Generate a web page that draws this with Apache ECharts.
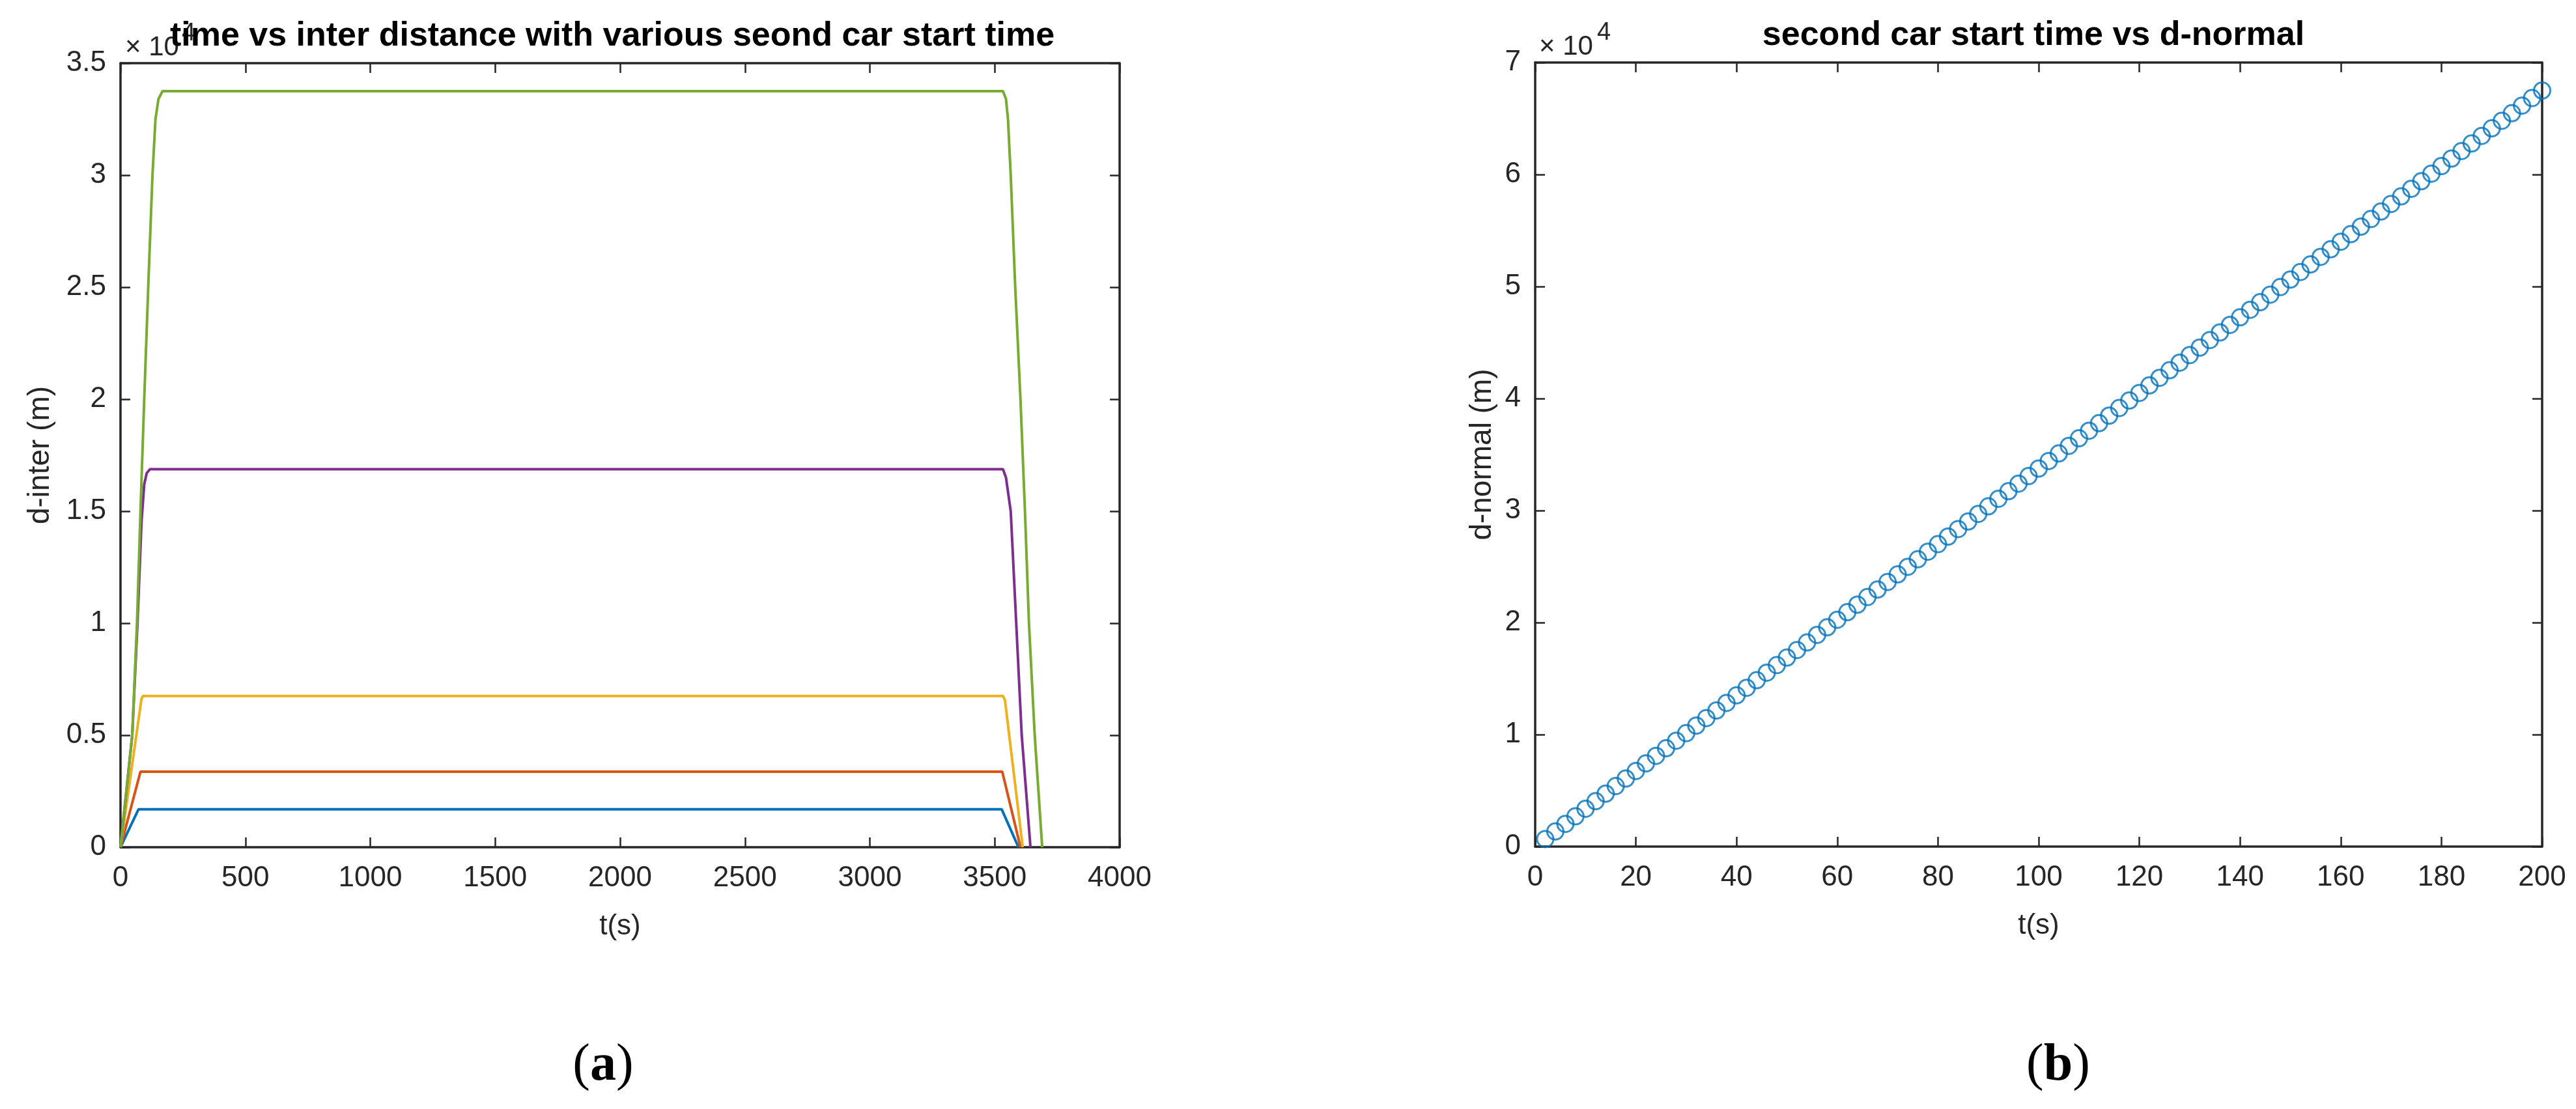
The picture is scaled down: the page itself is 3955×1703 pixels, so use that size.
<!DOCTYPE html>
<html>
<head>
<meta charset="utf-8">
<script src="https://cdn.jsdelivr.net/npm/echarts@6/dist/echarts.min.js"></script>
<style>
  html, body { margin: 0; padding: 0; background: #ffffff; }
  #chart { width: 3955px; height: 1703px; }
</style>
</head>
<body>
<div id="chart"></div>
<script>
// ---------- Panel (a): time vs inter distance ----------
const blueT   = [0, 72, 3528, 3595];
const blueD   = [0, 1690, 1690, 0];
const redT    = [0, 80, 3530, 3603];
const redD    = [0, 3375, 3375, 0];
const yellowT = [0, 84, 90, 3533, 3541, 3612];
const yellowD = [0, 6620, 6750, 6750, 6560, 0];
const purpleT = [0, 47, 68, 84, 95, 105, 118, 3533, 3545, 3564, 3586, 3608, 3643];
const purpleD = [0, 5000, 10000, 14500, 16200, 16700, 16875, 16875, 16500, 15000, 10000, 5000, 0];
const greenT  = [0, 47, 66, 80, 95, 111, 128, 140, 152, 168, 3533, 3545, 3553, 3564, 3582, 3603, 3621, 3637, 3660, 3690];
const greenD  = [0, 5000, 10000, 15000, 20000, 25000, 30000, 32500, 33400, 33750, 33750, 33400, 32500, 30000, 25000, 20000, 15000, 10000, 5000, 0];

// ---------- Panel (b): second car start time vs d-normal ----------
const startT = [2, 4, 6, 8, 10, 12, 14, 16, 18, 20, 22, 24, 26, 28, 30, 32, 34, 36, 38, 40,
  42, 44, 46, 48, 50, 52, 54, 56, 58, 60, 62, 64, 66, 68, 70, 72, 74, 76, 78, 80,
  82, 84, 86, 88, 90, 92, 94, 96, 98, 100, 102, 104, 106, 108, 110, 112, 114, 116, 118, 120,
  122, 124, 126, 128, 130, 132, 134, 136, 138, 140, 142, 144, 146, 148, 150, 152, 154, 156, 158, 160,
  162, 164, 166, 168, 170, 172, 174, 176, 178, 180, 182, 184, 186, 188, 190, 192, 194, 196, 198, 200];
const dNormal = [675, 1350, 2025, 2700, 3375, 4050, 4725, 5400, 6075, 6750,
  7425, 8100, 8775, 9450, 10125, 10800, 11475, 12150, 12825, 13500,
  14175, 14850, 15525, 16200, 16875, 17550, 18225, 18900, 19575, 20250,
  20925, 21600, 22275, 22950, 23625, 24300, 24975, 25650, 26325, 27000,
  27675, 28350, 29025, 29700, 30375, 31050, 31725, 32400, 33075, 33750,
  34425, 35100, 35775, 36450, 37125, 37800, 38475, 39150, 39825, 40500,
  41175, 41850, 42525, 43200, 43875, 44550, 45225, 45900, 46575, 47250,
  47925, 48600, 49275, 49950, 50625, 51300, 51975, 52650, 53325, 54000,
  54675, 55350, 56025, 56700, 57375, 58050, 58725, 59400, 60075, 60750,
  61425, 62100, 62775, 63450, 64125, 64800, 65475, 66150, 66825, 67500];

const titleA = 'time vs inter distance with various seond car start time';
const titleB = 'second car start time vs d-normal';

function zip(a, b) { return a.map((v, i) => [v, b[i]]); }

const FONT = '"Liberation Sans", Arial, Helvetica, sans-serif';
const SERIF = '"Liberation Serif", "Times New Roman", serif';
const AX = '#262626';
const fmtY = v => String(Math.round(v / 1000) / 10);
const fmtX = v => String(v);

function xAx(grid, min, max, interval, pos, showLabel, name) {
  return {
    type: 'value', gridIndex: grid, min: min, max: max, interval: interval, position: pos,
    axisLine: { show: true, onZero: false, lineStyle: { color: AX, width: 3.5 } },
    axisTick: { show: true, inside: true, length: 15, lineStyle: { color: AX, width: 2.5 } },
    axisLabel: { show: showLabel, fontSize: 44, color: AX, fontFamily: FONT, margin: 26, formatter: fmtX },
    splitLine: { show: false },
    name: name || '', nameLocation: 'middle', nameGap: 100,
    nameTextStyle: { fontSize: 44, color: AX, fontFamily: FONT }
  };
}
function yAx(grid, min, max, interval, pos, showLabel, name, gap) {
  return {
    type: 'value', gridIndex: grid, min: min, max: max, interval: interval, position: pos,
    axisLine: { show: true, onZero: false, lineStyle: { color: AX, width: 3.5 } },
    axisTick: { show: true, inside: true, length: 15, lineStyle: { color: AX, width: 2.5 } },
    axisLabel: { show: showLabel, fontSize: 44, color: AX, fontFamily: FONT, margin: 22, formatter: fmtY },
    splitLine: { show: false },
    name: name || '', nameLocation: 'middle', nameGap: gap || 0,
    nameTextStyle: { fontSize: 46, color: AX, fontFamily: FONT }
  };
}
function lineSeries(t, d, color) {
  return {
    type: 'line', xAxisIndex: 0, yAxisIndex: 0, data: zip(t, d),
    showSymbol: false, symbol: 'none', lineStyle: { color: color, width: 4 },
    itemStyle: { color: color }, animation: false, silent: true
  };
}

const chart = echarts.init(document.getElementById('chart'), null, { renderer: 'canvas' });
chart.setOption({
  backgroundColor: '#ffffff',
  animation: false,
  grid: [
    { left: 185, top: 97, width: 1534, height: 1204, containLabel: false, outerBoundsMode: 'none' },
    { left: 2357, top: 96, width: 1546, height: 1204, containLabel: false, outerBoundsMode: 'none' }
  ],
  xAxis: [
    xAx(0, 0, 4000, 500, 'bottom', true, 't(s)'),
    xAx(0, 0, 4000, 500, 'top', false),
    xAx(1, 0, 200, 20, 'bottom', true, 't(s)'),
    xAx(1, 0, 200, 20, 'top', false)
  ],
  yAxis: [
    yAx(0, 0, 35000, 5000, 'left', true, 'd-inter (m)', 100),
    yAx(0, 0, 35000, 5000, 'right', false),
    yAx(1, 0, 70000, 10000, 'left', true, 'd-normal (m)', 58),
    yAx(1, 0, 70000, 10000, 'right', false)
  ],
  series: [
    lineSeries(blueT, blueD, '#0072BD'),
    lineSeries(redT, redD, '#D95319'),
    lineSeries(yellowT, yellowD, '#EDB120'),
    lineSeries(purpleT, purpleD, '#7E2F8E'),
    lineSeries(greenT, greenD, '#77AC30'),
    {
      type: 'scatter', xAxisIndex: 2, yAxisIndex: 2, data: zip(startT, dNormal),
      symbol: 'circle', symbolSize: 25,
      itemStyle: { color: 'rgba(0,0,0,0)', borderColor: '#0072BD', borderWidth: 3 },
      animation: false, silent: true
    }
  ],
  graphic: [
    { type: 'text', x: 192, y: 73, z: 1, style: { text: '\u00d7 10', font: '42px ' + FONT, fill: AX, textAlign: 'left', textVerticalAlign: 'middle' } },
    { type: 'text', x: 279, y: 52, z: 1, style: { text: '4', font: '38px ' + FONT, fill: AX, textAlign: 'left', textVerticalAlign: 'middle' } },
    { type: 'text', x: 2363, y: 72, z: 1, style: { text: '\u00d7 10', font: '42px ' + FONT, fill: AX, textAlign: 'left', textVerticalAlign: 'middle' } },
    { type: 'text', x: 2452, y: 51, z: 1, style: { text: '4', font: '38px ' + FONT, fill: AX, textAlign: 'left', textVerticalAlign: 'middle' } },
    { type: 'text', x: 940, y: 56, z: 10, style: { text: titleA, font: 'bold 52px ' + FONT, fill: '#000000', textAlign: 'center', textVerticalAlign: 'middle' } },
    { type: 'text', x: 3122, y: 55, z: 10, style: { text: titleB, font: 'bold 52px ' + FONT, fill: '#000000', textAlign: 'center', textVerticalAlign: 'middle' } },
    { type: 'text', x: 926, y: 1637, z: 10, style: {
        text: '({b|a})', font: '80px ' + SERIF, fill: '#000000',
        textAlign: 'center', textVerticalAlign: 'middle',
        rich: { b: { fontWeight: 'bold', fontSize: 80, fontFamily: SERIF } } } },
    { type: 'text', x: 3160, y: 1637, z: 10, style: {
        text: '({b|b})', font: '80px ' + SERIF, fill: '#000000',
        textAlign: 'center', textVerticalAlign: 'middle',
        rich: { b: { fontWeight: 'bold', fontSize: 80, fontFamily: SERIF } } } }
  ]
});
</script>
</body>
</html>
